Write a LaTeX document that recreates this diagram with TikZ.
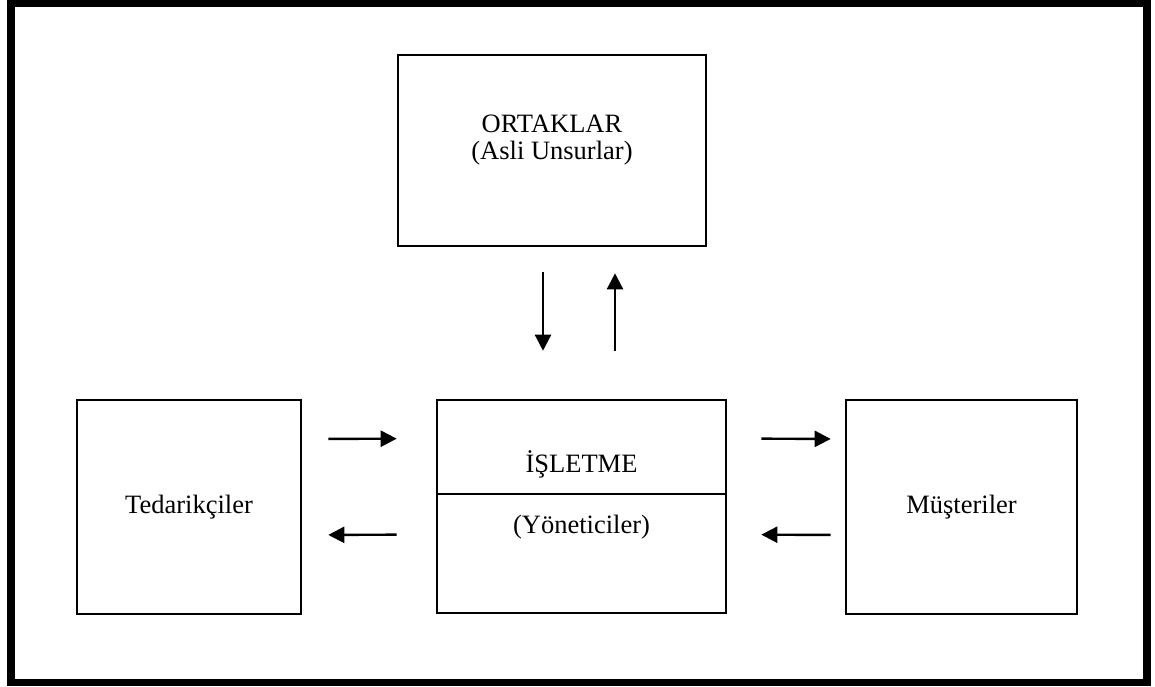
\documentclass[tikz,border=0pt]{standalone}
\usepackage{fontspec}
\setmainfont{Liberation Serif}
\usepackage{tikz}
\usetikzlibrary{positioning, arrows.meta}

\tikzset{
  unit/.style={draw=black, line width=2.6pt, minimum width=#1, inner sep=0pt},
  lbl/.style={font=\fontsize{26.5}{27}\selectfont, align=center, inner sep=0pt},
  flow/.style={-{Triangle[length=16pt, width=16pt]}, line width=2.4pt}
}

\begin{document}
\begin{tikzpicture}[x=1pt, y=-1pt]
    \useasboundingbox (0,0) rectangle (1155,686);
    % outer frame
    \draw[line width=7.5pt] (11,3.5) rectangle (1147,682.5);

    % boxes
    \node[unit=308pt, minimum height=191pt] (ortaklar) at (552,150.5) {};
    \node[unit=224pt, minimum height=214pt] (tedarik) at (189,507) {};
    \node[unit=289pt, minimum height=213pt] (isletme) at (581.5,506.5) {};
    \node[unit=231pt, minimum height=214pt] (musteri) at (961.5,507) {};
    \draw[line width=1.8pt] (isletme.west |- 0,494) -- (isletme.east |- 0,494);

    % texts
    \node[lbl] (ortaklar-txt) at (552,140) {ORTAKLAR\\(Asli Unsurlar)};
    \node[lbl] (tedarik-txt) at (tedarik.center) {Tedarikçiler};
    \node[lbl] (musteri-txt) at (musteri.center) {Müşteriler};
    \node[lbl] (isletme-txt) at (581.5,464) {İŞLETME};
    \node[lbl] (yonetici-txt) at (581.5,527) {(Yöneticiler)};

    % flows
    \draw[flow, shorten <=25pt, shorten >=48pt] ([xshift=-9pt]ortaklar.south) -- ([xshift=-38.5pt]isletme.north);
    \draw[flow, shorten <=48pt, shorten >=26pt] ([xshift=33.5pt]isletme.north) -- ([xshift=63pt]ortaklar.south);
    \draw[flow, shorten <=26pt, shorten >=39pt] ([yshift=68pt]tedarik.east) -- ([yshift=68pt]isletme.west);
    \draw[flow, shorten <=39pt, shorten >=26pt] ([yshift=-28pt]isletme.west) -- ([yshift=-28pt]tedarik.east);
    \draw[flow, shorten <=34pt, shorten >=14pt] ([yshift=68pt]isletme.east) -- ([yshift=68pt]musteri.west);
    \draw[flow, shorten <=14pt, shorten >=34pt] ([yshift=-28pt]musteri.west) -- ([yshift=-28pt]isletme.east);
\end{tikzpicture}
\end{document}
